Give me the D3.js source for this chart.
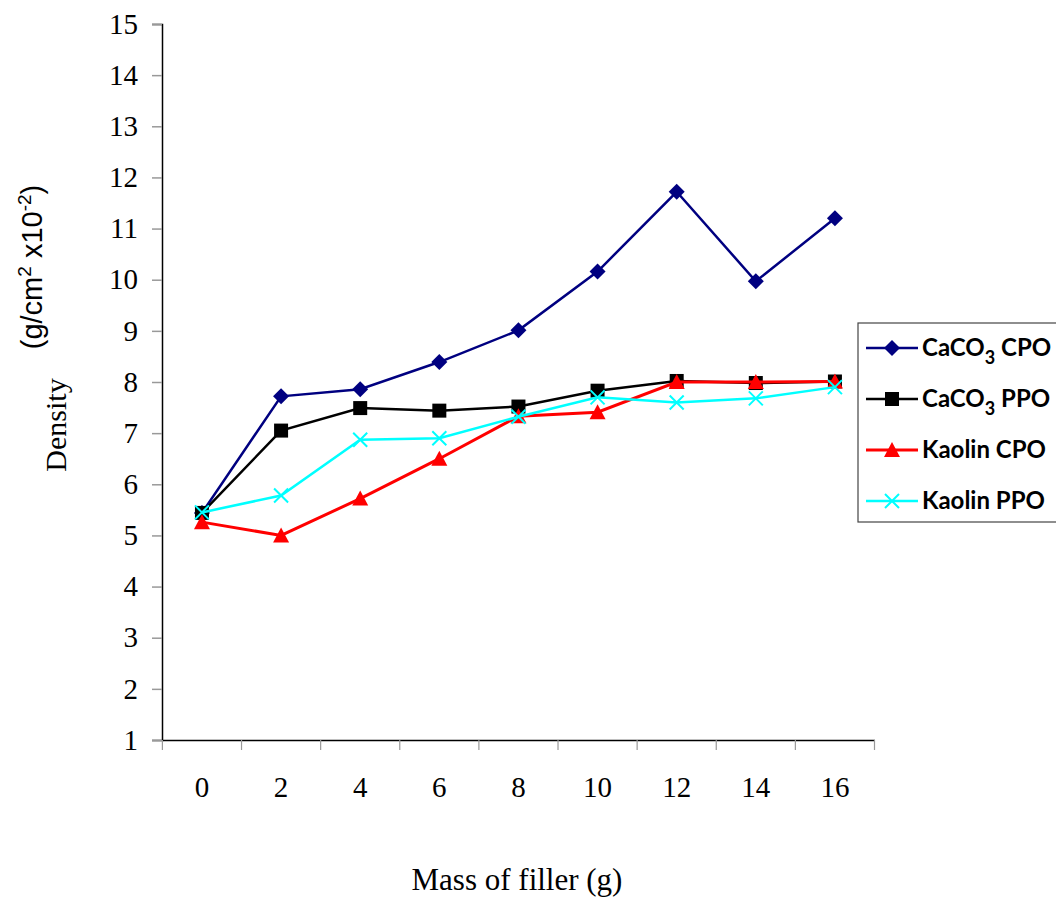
<!DOCTYPE html>
<html>
<head>
<meta charset="utf-8">
<script src="https://cdn.jsdelivr.net/npm/d3@7"></script>
<style>
  body { margin: 0; background: #fff; }
  svg { display: block; }
</style>
</head>
<body>
<script>
const width = 1056;
const height = 897;

// data
const masses = ["0", "2", "4", "6", "8", "10", "12", "14", "16"];
const caco3Cpo = [5.44, 7.72, 7.86, 8.39, 9.01, 10.16, 11.72, 9.97, 11.2];
const caco3Ppo = [5.44, 7.05, 7.49, 7.44, 7.52, 7.83, 8.02, 7.98, 8.01];
const kaolinCpo = [5.26, 5.0, 5.72, 6.5, 7.33, 7.41, 8.0, 8.0, 8.01];
const kaolinPpo = [5.45, 5.78, 6.87, 6.9, 7.32, 7.7, 7.6, 7.68, 7.9];
const yTicks = d3.range(1, 16);

const series = [
  { name: "CaCO", sub: "3", rest: " CPO", values: caco3Cpo, color: "#000080", marker: "diamond", lw: 2.5 },
  { name: "CaCO", sub: "3", rest: " PPO", values: caco3Ppo, color: "#000000", marker: "square", lw: 2.5 },
  { name: "Kaolin CPO", sub: "", rest: "", values: kaolinCpo, color: "#ff0000", marker: "triangle", lw: 3 },
  { name: "Kaolin PPO", sub: "", rest: "", values: kaolinPpo, color: "#00ffff", marker: "cross", lw: 2.5 }
];

const serif = "Liberation Serif, Times New Roman, serif";

const svg = d3.select("body").append("svg")
  .attr("width", width)
  .attr("height", height);

const x = d3.scaleBand().domain(masses).range([162.4, 874.5]);
const y = d3.scaleLinear().domain([1, 15]).range([740, 24]);

// y axis
const yAxis = svg.append("g")
  .attr("transform", "translate(162,0)")
  .call(d3.axisLeft(y).tickValues(yTicks).tickSize(10).tickPadding(14));
yAxis.select(".domain").attr("stroke", "#000").attr("stroke-width", 1.5);
yAxis.selectAll(".tick line").attr("stroke", "#999").attr("stroke-width", 1.5);
yAxis.selectAll(".tick text")
  .attr("font-family", serif)
  .attr("font-size", 29).attr("fill", "#000");

// x axis
const xAxis = svg.append("g")
  .attr("transform", "translate(0,740)")
  .call(d3.axisBottom(x).tickSize(0).tickPadding(36));
xAxis.select(".domain").attr("stroke", "#000").attr("stroke-width", 1.5);
xAxis.selectAll(".tick text")
  .attr("font-family", serif)
  .attr("font-size", 29).attr("fill", "#000");
const bounds = masses.map(m => x(m)).concat([x.range()[1]]);
svg.append("g").selectAll("line").data(bounds).enter().append("line")
  .attr("x1", d => d).attr("x2", d => d)
  .attr("y1", 740).attr("y2", 750)
  .attr("stroke", "#999").attr("stroke-width", 1.2);

// axis titles
svg.append("text")
  .attr("x", 517).attr("y", 890)
  .attr("text-anchor", "middle")
  .attr("font-family", serif)
  .attr("font-size", 31)
  .text("Mass of filler (g)");

svg.append("text")
  .attr("transform", "translate(66,425) rotate(-90)")
  .attr("text-anchor", "middle")
  .attr("font-family", serif)
  .attr("font-size", 30)
  .text("Density");

const unitLabel = svg.append("text")
  .attr("transform", "translate(42,267) rotate(-90)")
  .attr("text-anchor", "middle")
  .attr("font-family", "Liberation Sans, Arial, sans-serif")
  .attr("font-size", 29);
unitLabel.append("tspan").text("(g/cm");
unitLabel.append("tspan").attr("dy", -11).attr("font-size", 19).text("2");
unitLabel.append("tspan").attr("dy", 11).text(" x10");
unitLabel.append("tspan").attr("dy", -11).attr("font-size", 19).text("-2");
unitLabel.append("tspan").attr("dy", 11).text(")");

// markers
function drawMarker(g, type, color, size) {
  if (type === "diamond") {
    g.append("path").attr("d", `M0,${-size}L${size},0L0,${size}L${-size},0Z`).attr("fill", color);
  } else if (type === "square") {
    g.append("rect").attr("x", -size).attr("y", -size)
      .attr("width", size * 2).attr("height", size * 2).attr("fill", color);
  } else if (type === "triangle") {
    g.append("path").attr("d", `M0,${-size - 1}L${size + 1},${size}L${-size - 1},${size}Z`).attr("fill", color);
  } else {
    g.append("path").attr("d", `M${-size},${-size}L${size},${size}M${-size},${size}L${size},${-size}`)
      .attr("stroke", color).attr("stroke-width", 2);
  }
}

const line = d3.line()
  .x((d, i) => x(masses[i]) + x.bandwidth() / 2)
  .y(d => y(d));

const sizes = { diamond: 8, square: 7, triangle: 7, cross: 7 };

series.forEach(s => {
  const g = svg.append("g");
  g.append("path")
    .datum(s.values)
    .attr("d", line)
    .attr("fill", "none")
    .attr("stroke", s.color)
    .attr("stroke-width", s.lw);
  g.selectAll("g.pt").data(s.values).enter().append("g")
    .attr("class", "pt")
    .attr("transform", (d, i) => `translate(${x(masses[i]) + x.bandwidth() / 2},${y(d)})`)
    .each(function () { drawMarker(d3.select(this), s.marker, s.color, sizes[s.marker]); });
});

// legend
const legend = svg.append("g");
legend.append("rect")
  .attr("x", 858).attr("y", 323)
  .attr("width", 220).attr("height", 199)
  .attr("fill", "#fff").attr("stroke", "#444").attr("stroke-width", 1.2);

series.forEach((s, i) => {
  const ly = 348 + i * 51;
  const lg = legend.append("g");
  lg.append("line")
    .attr("x1", 866).attr("x2", 918)
    .attr("y1", ly).attr("y2", ly)
    .attr("stroke", s.color).attr("stroke-width", s.lw);
  drawMarker(lg.append("g").attr("transform", `translate(892,${ly})`), s.marker, s.color, sizes[s.marker]);
  const t = lg.append("text")
    .attr("x", 922).attr("y", ly + 8)
    .attr("font-family", "Lato, Open Sans, sans-serif")
    .attr("font-weight", "bold")
    .attr("font-size", 24);
  t.append("tspan").text(s.name);
  if (s.sub) {
    t.append("tspan").attr("dy", 8).attr("font-size", 18).text(s.sub);
    t.append("tspan").attr("dy", -8).text(s.rest);
  }
});
</script>
</body>
</html>
